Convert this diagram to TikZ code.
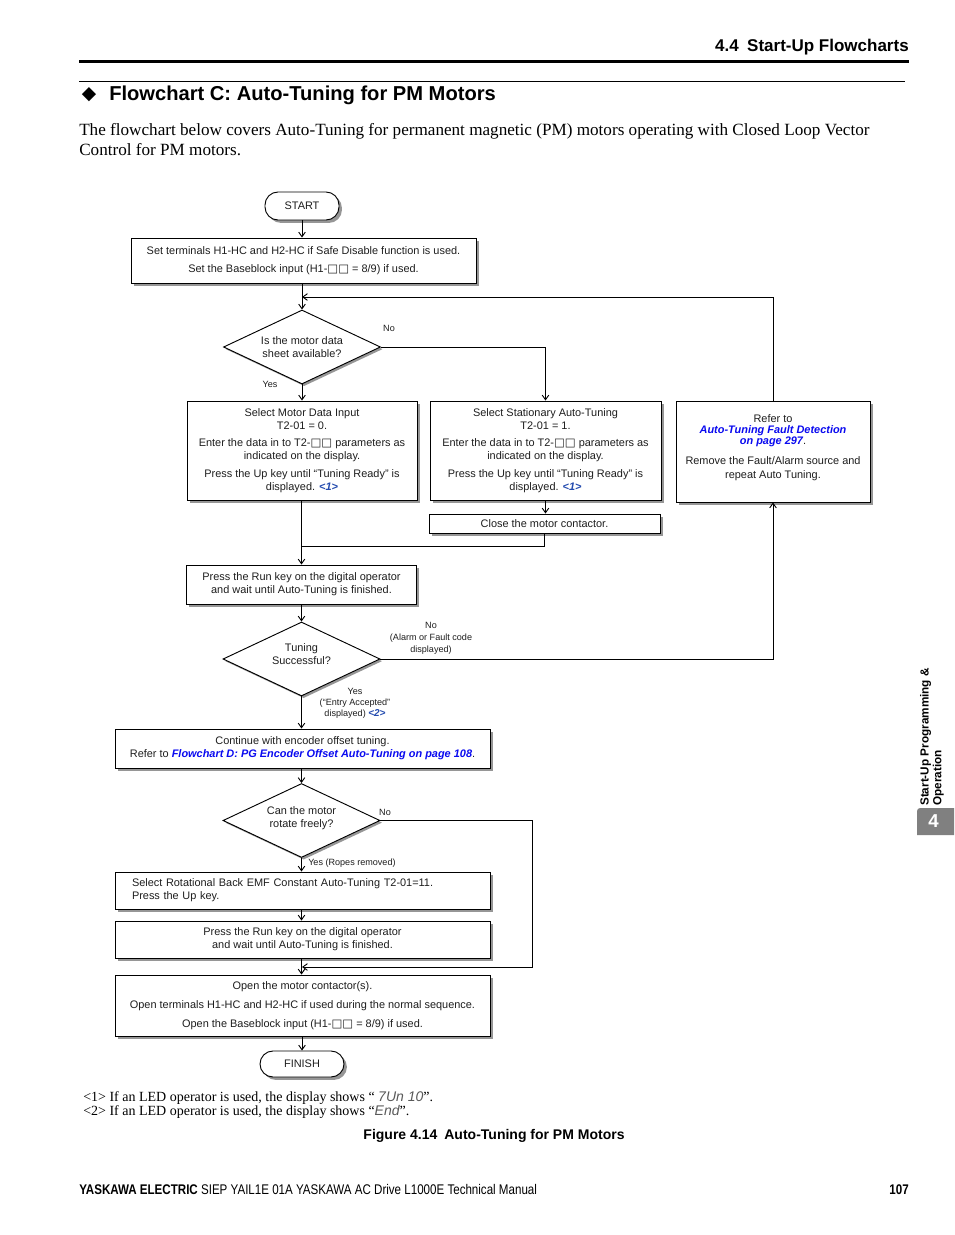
\documentclass[tikz,border=0pt]{standalone}
\usepackage{fontspec}
\setmainfont{Liberation Serif}
\setsansfont{Liberation Sans}
\newfontfamily\dejavu{DejaVu Sans}
\usetikzlibrary{shapes.geometric,arrows.meta,shadows}
\definecolor{linkblue}{RGB}{10,10,240}
\definecolor{refblue}{RGB}{35,75,175}
\definecolor{tabgrey}{RGB}{128,128,128}
\definecolor{txtc}{RGB}{30,30,30}
\definecolor{shadowc}{RGB}{150,150,150}
\newcommand\sqq{{\dejavu\fontsize{8.6}{9}\selectfont □}}
\newcommand\ledtxt[1]{{\sffamily\itshape\color{black!65}#1}}
\begin{document}
\begin{tikzpicture}[x=0.75pt,y=-0.75pt,
  fc/.style={font=\sffamily\fontsize{8.2}{9.75}\selectfont, text=txtc},
  shd/.style={general shadow={fill=shadowc, shadow xshift=2.2pt, shadow yshift=-2.2pt}},
  box/.style={fc, draw=black, line width=0.7pt, fill=white, align=center, inner sep=0pt, shd},
  term/.style={box, rounded corners=9.75pt},
  dia/.style={draw, line width=0.7pt, diamond, inner sep=0pt, fill=white,
    minimum width=117.75pt, minimum height=55.5pt,
    general shadow={fill=shadowc, shadow xshift=1.6pt, shadow yshift=-1.6pt}},
  lbl/.style={font=\sffamily\fontsize{6.8}{8.25}\selectfont, text=txtc, inner sep=0pt, align=center},
  arr/.style={line width=0.7pt, -{Straight Barb[length=3.5pt,width=5pt]}},
  ln/.style={line width=0.7pt}]
\useasboundingbox (0,0) rectangle (954,1235);
\fill[white] (0,0) rectangle (954,1235);

% header
\node[anchor=east, inner sep=0, font=\sffamily\bfseries\fontsize{12.75}{14}\selectfont] (hdr) at (909,47) {4.4\hspace{0.5em}Start-Up Flowcharts};
\draw[line width=2.25pt] (79,61) -- (909,61);
\draw[line width=0.75pt] (79,81) -- (905,81);
\node[inner sep=0, font=\dejavu\fontsize{14}{15}\selectfont] (dmd) at (89,95) {◆};
\node[anchor=west, inner sep=0, font=\sffamily\bfseries\fontsize{15.1}{17}\selectfont] (ttl) at (109,95) {Flowchart C: Auto-Tuning for PM Motors};
\node[anchor=base west, inner sep=0, font=\fontsize{12.85}{15}\selectfont] (p1) at (79,135) {The flowchart below covers Auto-Tuning for permanent magnetic (PM) motors operating with Closed Loop Vector};
\node[anchor=base west, inner sep=0, font=\fontsize{12.85}{15}\selectfont] (p2) at (79,155) {Control for PM motors.};

% flowchart nodes
\node[term, minimum width=55.5pt, minimum height=21pt] (start) at (302,206) {START};
\node[box, minimum width=258.75pt, minimum height=33.75pt] (b1) at (303.5,260.5)
  {Set terminals H1-HC and H2-HC if Safe Disable function is used.\\[3.75pt]
   Set the Baseblock input (H1-\sqq\sqq{} = 8/9) if used.};
\node[dia] (d1) at (302,347) {};
\node[fc, align=center, inner sep=0] (d1t) at (302,347.5) {Is the motor data\\sheet available?};
\node[box, minimum width=172.5pt, minimum height=74.25pt] (b2) at (302,450.5)
  {Select Motor Data Input\\ T2-01 = 0.\\[3pt]
   Enter the data in to T2-\sqq\sqq{} parameters as\\ indicated on the display.\\[3.4pt]
   Press the Up key until “Tuning Ready” is\\ displayed. \textcolor{refblue}{\bfseries\itshape <1>}};
\node[box, minimum width=173.25pt, minimum height=74.25pt] (b3) at (545.5,450.5)
  {Select Stationary Auto-Tuning\\ T2-01 = 1.\\[3pt]
   Enter the data in to T2-\sqq\sqq{} parameters as\\ indicated on the display.\\[3.4pt]
   Press the Up key until “Tuning Ready” is\\ displayed. \textcolor{refblue}{\bfseries\itshape <1>}};
\node[box, minimum width=145.5pt, minimum height=75.75pt] (b4) at (773,451.5) {};
\node[fc, align=center, inner sep=0] (b4t) at (773,448)
  {Refer to\\[-1.5pt]
   \textcolor{linkblue}{\bfseries\itshape Auto-Tuning Fault Detection}\\[-1.5pt]
   \textcolor{linkblue}{\bfseries\itshape on page 297}.\\[5.25pt]
   Remove the Fault/Alarm source and\\[0.75pt] repeat Auto Tuning.};
\node[box, minimum width=173.25pt, minimum height=14.25pt] (close) at (544.5,523.5) {Close the motor contactor.};
\node[box, minimum width=172.5pt, minimum height=29.25pt] (run1) at (301.5,584.5)
  {Press the Run key on the digital operator\\ and wait until Auto-Tuning is finished.};
\node[dia] (d2) at (301.5,659) {};
\node[fc, align=center, inner sep=0] (d2t) at (301.5,654.5) {Tuning\\Successful?};
\node[box, minimum width=281.25pt, minimum height=29.25pt] (cont) at (302.5,748.5)
  {Continue with encoder offset tuning.\\ Refer to \textcolor{linkblue}{\bfseries\itshape Flowchart D: PG Encoder Offset Auto-Tuning on page 108}.};
\node[dia] (d3) at (301.5,820.5) {};
\node[fc, align=center, inner sep=0] (d3t) at (301.5,818.5) {Can the motor\\rotate freely?};
\node[box, minimum height=27.75pt, text width=255.75pt, inner xsep=12.75pt, align=left] (rot) at (302.5,890.5)
  {Select Rotational Back EMF Constant Auto-Tuning T2-01=11.\\ Press the Up key.};
\node[box, minimum width=281.25pt, minimum height=27.75pt] (run2) at (302.5,939.5)
  {Press the Run key on the digital operator\\ and wait until Auto-Tuning is finished.};
\node[box, minimum width=281.25pt, minimum height=45.75pt] (open) at (302.5,1005.5)
  {Open the motor contactor(s).\\[4.5pt]
   Open terminals H1-HC and H2-HC if used during the normal sequence.\\[4.5pt]
   Open the Baseblock input (H1-\sqq\sqq{} = 8/9) if used.};
\node[term, minimum width=63pt, minimum height=19.5pt] (finish) at (302,1064) {FINISH};

% connectors
\coordinate (j1) at (302,297);
\coordinate (j2) at (301.5,546);
\coordinate (c3) at (532,967);
\coordinate (j3) at (302,967);
\draw[arr] (start.south) -- (start.south |- b1.north);
\draw[arr] (d1.north |- b1.south) -- (d1.north);
\draw[arr] (b4.north) |- (j1);
\draw[arr] (d1.east) -| (b3.north);
\draw[arr] (d1.south) -- (d1.south |- b2.north);
\draw[arr] (b3.south) -- (b3.south |- close.north);
\draw[ln] (close.south) |- (j2);
\draw[arr] (run1.north |- b2.south) -- (run1.north);
\draw[arr] (run1.south) -- (run1.south |- d2.north);
\draw[arr] (d2.east) -| (b4.south);
\draw[arr] (d2.south) -- (d2.south |- cont.north);
\draw[arr] (d3.north |- cont.south) -- (d3.north);
\draw[arr] (d3.south) -- (d3.south |- rot.north);
\draw[arr] (d3.south |- rot.south) -- (d3.south |- run2.north);
\draw[arr] (d3.east) -| (c3) -- (j3);
\draw[arr] (d3.south |- run2.south) -- (d3.south |- open.north);
\draw[arr] (finish.north |- open.south) -- (finish.north);

% branch labels
\node[lbl] (l1) at (389,328) {No};
\node[lbl] (l2) at (270,384) {Yes};
\node[lbl] (l3) at (431,638) {No\\[0.75pt](Alarm or Fault code\\[0.75pt]displayed)};
\node[lbl] (l4) at (355,703) {Yes\\(“Entry Accepted”\\displayed) \textcolor{refblue}{\bfseries\itshape\fontsize{7.5}{8.25}\selectfont <2>}};
\node[lbl] (l5) at (385,812) {No};
\node[lbl, anchor=west] (l6) at (308,863) {Yes (Ropes removed)};

% footnotes and caption
\node[anchor=base west, inner sep=0, font=\fontsize{10.5}{12}\selectfont] (fn1) at (83,1101)
  {<1> If an LED operator is used, the display shows “ \ledtxt{7Un 10}”.};
\node[anchor=base west, inner sep=0, font=\fontsize{10.5}{12}\selectfont] (fn2) at (83,1115)
  {<2> If an LED operator is used, the display shows “\ledtxt{End}”.};
\node[inner sep=0, font=\sffamily\bfseries\fontsize{10.5}{12}\selectfont] (cap) at (494,1136)
  {Figure 4.14\hspace{0.5em}Auto-Tuning for PM Motors};

% footer
\node[anchor=base west, inner sep=0, font=\sffamily\fontsize{10.5}{12}\selectfont] (ft) at (79,1194)
  {\scalebox{0.827}[1]{\textbf{YASKAWA ELECTRIC} SIEP YAIL1E 01A YASKAWA AC Drive L1000E Technical Manual}};
\node[anchor=base east, inner sep=0, font=\sffamily\bfseries\fontsize{10.5}{12}\selectfont] (pg) at (909,1194)
  {\scalebox{0.827}[1]{107}};

% side tab
\fill[tabgrey] (917,835) -- (917,815) .. controls (917,808) .. (924,808) -- (954,808) -- (954,835) -- cycle;
\node[inner sep=0, text=white, font=\sffamily\bfseries\fontsize{14}{16}\selectfont] (tabn) at (933.5,821.5) {4};
\node[rotate=90, anchor=west, inner sep=0, align=left, font=\sffamily\bfseries\fontsize{8.8}{9.5}\selectfont] (tabt) at (932,806)
  {Start-Up Programming \&\\Operation};
\end{tikzpicture}
\end{document}
